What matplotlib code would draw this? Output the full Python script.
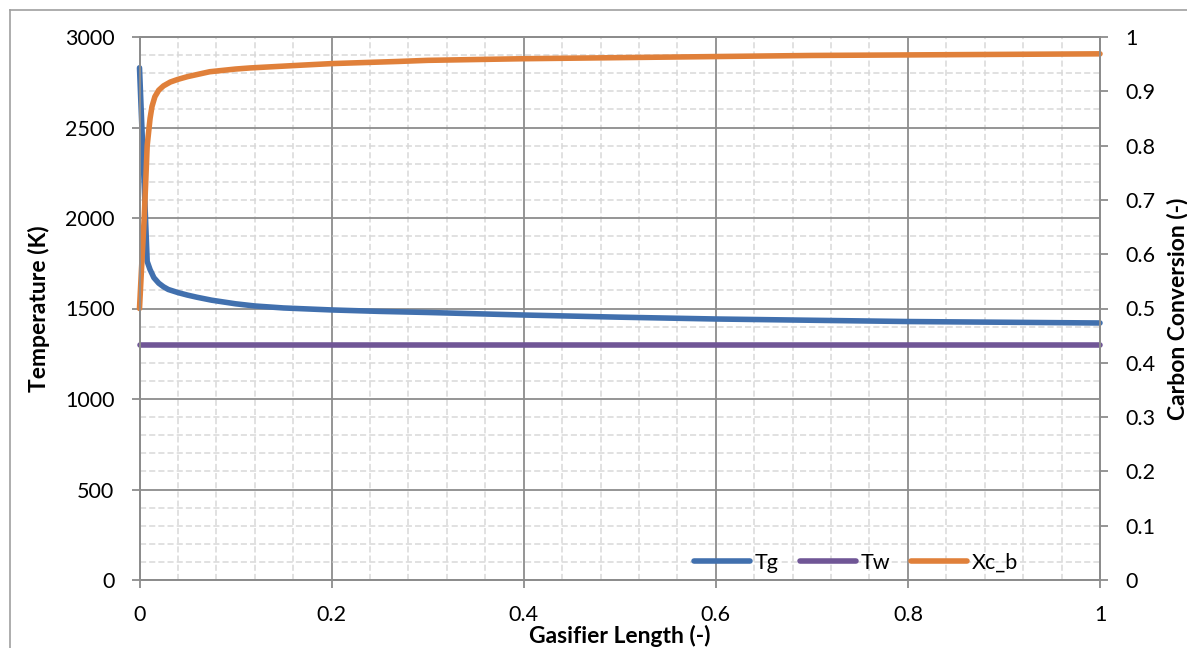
import matplotlib
matplotlib.use("Agg")
import matplotlib.pyplot as plt
from matplotlib.lines import Line2D
from matplotlib.ticker import MultipleLocator, FixedLocator

# Gas temperature along the gasifier
length_tg = [0, 0.002, 0.005, 0.008, 0.011, 0.015, 0.02, 0.025, 0.03, 0.04,
             0.05, 0.06, 0.075, 0.1, 0.12, 0.15, 0.2, 0.25, 0.3, 0.4,
             0.5, 0.6, 0.7, 0.8, 0.9, 1.0]
tg = [2830, 2565, 2170, 1760, 1715, 1670, 1640, 1620, 1605, 1588,
      1574, 1562, 1546, 1526, 1514, 1503, 1492, 1484, 1478, 1464,
      1452, 1442, 1435, 1428, 1424, 1420]

# Wall temperature
length_tw = [0, 1.0]
tw = [1300, 1300]

# Carbon conversion
length_xc = [0, 0.002, 0.005, 0.008, 0.011, 0.013, 0.016, 0.02, 0.025, 0.032,
             0.04, 0.05, 0.073, 0.1, 0.115, 0.167, 0.2, 0.27, 0.3, 0.4,
             0.5, 0.6, 0.7, 0.8, 0.9, 1.0]
xc_b = [0.50, 0.57, 0.67, 0.80, 0.85, 0.872, 0.89, 0.902, 0.91, 0.917,
        0.922, 0.927, 0.936, 0.941, 0.943, 0.948, 0.951, 0.955, 0.957, 0.960,
        0.962, 0.964, 0.966, 0.967, 0.968, 0.969]

x_ticks = [0, 0.2, 0.4, 0.6, 0.8, 1.0]
x_tick_labels = ["0", "0.2", "0.4", "0.6", "0.8", "1"]
temp_ticks = [0, 500, 1000, 1500, 2000, 2500, 3000]
temp_tick_labels = ["0", "500", "1000", "1500", "2000", "2500", "3000"]
conv_ticks = [0, 0.1, 0.2, 0.3, 0.4, 0.5, 0.6, 0.7, 0.8, 0.9, 1.0]
conv_tick_labels = ["0", "0.1", "0.2", "0.3", "0.4", "0.5", "0.6", "0.7",
                    "0.8", "0.9", "1"]

plt.rcParams['font.family'] = ['Lato', 'DejaVu Sans']

W, H = 1187, 648
BLUE = '#4170ae'
PURPLE = '#705696'
ORANGE = '#e0803a'
GRID = '#8c8c8c'
MINOR = '#d9d9d9'
TICK_FS = 15.5
LABEL_FS = 16.5

fig = plt.figure(figsize=(W / 100, H / 100), dpi=100)
left, right, top, bottom = 139.5, 1100, 37, 580
ax = fig.add_axes([left / W, 1 - bottom / H, (right - left) / W, (bottom - top) / H])
ax2 = ax.twinx()

# outer chart frame
frame_kw = dict(transform=fig.transFigure, color='#a0a0a0', lw=1.2)
fig.add_artist(Line2D([10 / W, 10 / W], [0, 1 - 10 / H], **frame_kw))
fig.add_artist(Line2D([10 / W, 1], [1 - 10 / H, 1 - 10 / H], **frame_kw))

line_kw = dict(lw=4, solid_capstyle='round', solid_joinstyle='round', clip_on=False)
h_tg, = ax.plot(length_tg, tg, color=BLUE, label='Tg', **line_kw)
h_tw, = ax.plot(length_tw, tw, color=PURPLE, label='Tw', **line_kw)
h_xc, = ax2.plot(length_xc, xc_b, color=ORANGE, label='Xc_b', **line_kw)

ax.set_xlim(0, 1)
ax.set_ylim(0, 3000)
ax2.set_ylim(0, 1)

ax.xaxis.set_major_locator(FixedLocator(x_ticks))
ax.set_xticklabels(x_tick_labels)
ax.yaxis.set_major_locator(FixedLocator(temp_ticks))
ax.set_yticklabels(temp_tick_labels)
ax2.yaxis.set_major_locator(FixedLocator(conv_ticks))
ax2.set_yticklabels(conv_tick_labels)

ax.xaxis.set_minor_locator(MultipleLocator(0.04))
ax.yaxis.set_minor_locator(MultipleLocator(100))
ax.set_axisbelow(True)
ax.grid(which='minor', color=MINOR, lw=1.1, ls=(0, (4, 2)))
ax.grid(which='major', color=GRID, lw=1.3, ls='-')

for a in (ax, ax2):
    for s in a.spines.values():
        s.set_color(GRID)
        s.set_linewidth(1.3)
ax.tick_params(which='minor', length=0)
ax.tick_params(which='major', direction='out', length=6, width=1.3, color=GRID,
               labelsize=TICK_FS, labelcolor='black', pad=12)
ax2.tick_params(which='major', direction='out', length=6, width=1.3, color=GRID,
                labelsize=TICK_FS, labelcolor='black', pad=12)

ax.set_xlabel('Gasifier Length (-)', fontsize=LABEL_FS, fontweight='bold')
ax.xaxis.set_label_coords(0.5, (bottom - 636) / (bottom - top))
ax.xaxis.label.set_va('center')
ax.set_ylabel('Temperature (K)', fontsize=LABEL_FS, fontweight='bold')
ax.yaxis.set_label_coords((39 - left) / (right - left), 0.5)
ax.yaxis.label.set_va('center')
ax2.set_ylabel('Carbon Conversion (-)', fontsize=LABEL_FS, fontweight='bold')
ax2.yaxis.set_label_coords((1177 - left) / (right - left), 0.5)
ax2.yaxis.label.set_va('center')

leg = ax2.legend(handles=[h_tg, h_tw, h_xc], ncol=3, loc='center',
                 bbox_to_anchor=(856 / W, 1 - 563 / H), bbox_transform=fig.transFigure,
                 frameon=False, fontsize=TICK_FS, handlelength=2.6, handletextpad=0.2,
                 columnspacing=1.0, borderpad=0, borderaxespad=0)

fig.savefig('out.png', dpi=100)
